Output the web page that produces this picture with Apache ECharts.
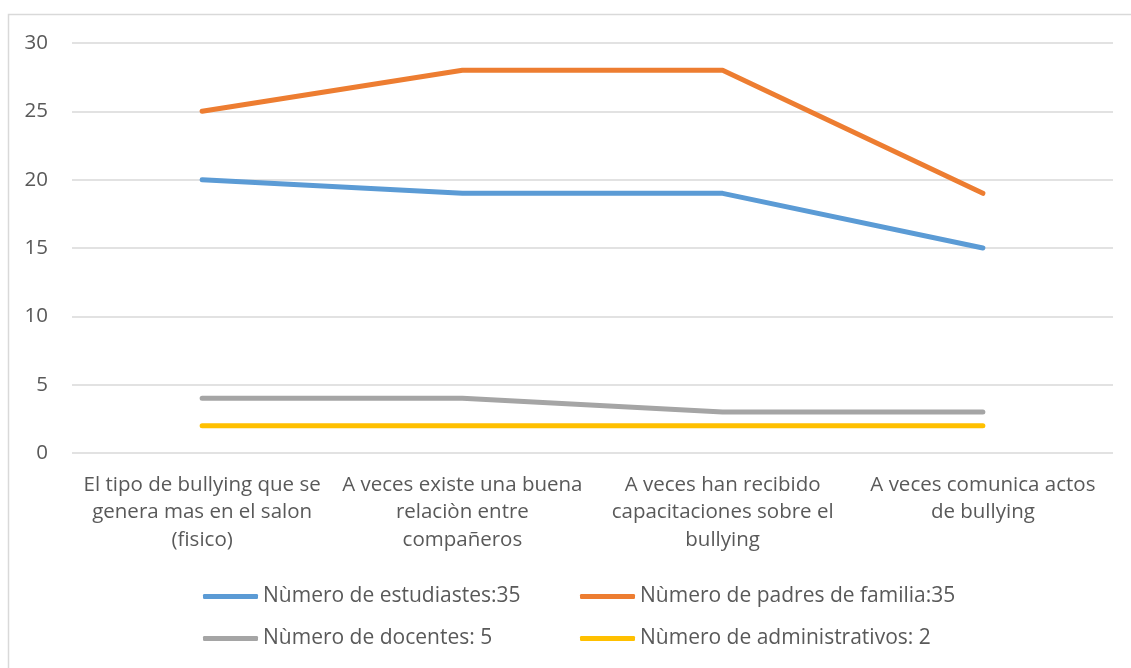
<!DOCTYPE html>
<html>
<head>
<meta charset="utf-8">
<script src="https://cdn.jsdelivr.net/npm/echarts@6/dist/echarts.min.js"></script>
<style>
  html, body { margin: 0; padding: 0; background: #fff; }
  #line { width: 1131px; height: 668px; }
</style>
</head>
<body>
<div id="line"></div>
<script>
// categorias del eje x
const categorias = [
  "El tipo de bullying que se\ngenera mas en el salon\n(fisico)",
  "A veces existe una buena\nrelaciòn entre\ncompañeros",
  "A veces han recibido\ncapacitaciones sobre el\nbullying",
  "A veces comunica actos\nde bullying",
];
const nombres = [
  "Nùmero de estudiastes:35",
  "Nùmero de padres de familia:35",
  "Nùmero de docentes: 5",
  "Nùmero de administrativos: 2",
];
const estudiantes = [20, 19, 19, 15];
const padres = [25, 28, 28, 19];
const docentes = [4, 4, 3, 3];
const administrativos = [2, 2, 2, 2];
const colores = ["#5B9BD5", "#ED7D31", "#A5A5A5", "#FFC000"];

const font = "'Open Sans', sans-serif";
var myChart = echarts.init(document.getElementById("line"));

function serie(name, data, color) {
  return {
    name: name,
    type: "line",
    data: data,
    showSymbol: false,
    symbol: "none",
    lineStyle: { width: 5, color: color, cap: "round" },
    itemStyle: { color: color },
  };
}

const leyenda = {
  orient: "vertical",
  top: 585,
  padding: 0,
  itemWidth: 55,
  itemHeight: 5,
  itemGap: 19,
  icon: "roundRect",
  textStyle: { color: "#595959", fontSize: 21, fontFamily: font, lineHeight: 23 },
};

var option = {
  animation: false,
  color: colores,
  grid: { left: 72, right: 18, top: 43, bottom: 215 },
  graphic: [
    {
      type: "rect",
      shape: { x: 8.5, y: 14.5, width: 1140, height: 700 },
      style: { fill: "none", stroke: "#d9d9d9", lineWidth: 1.5 },
      silent: true,
    },
  ],
  legend: [
    Object.assign({}, leyenda, { left: 203, data: [nombres[0], nombres[2]] }),
    Object.assign({}, leyenda, { left: 580, data: [nombres[1], nombres[3]] }),
  ],
  xAxis: {
    type: "category",
    data: categorias,
    boundaryGap: true,
    axisLine: { show: false },
    axisTick: { show: false },
    axisLabel: {
      color: "#595959",
      fontSize: 20.5,
      fontFamily: font,
      lineHeight: 27.5,
      margin: 18,
      interval: 0,
    },
  },
  yAxis: {
    type: "value",
    min: 0,
    max: 30,
    interval: 5,
    axisLine: { show: false },
    axisTick: { show: false },
    axisLabel: { color: "#595959", fontSize: 20.5, fontFamily: font, margin: 24 },
    splitLine: { lineStyle: { color: "#d9d9d9", width: 1.5 } },
  },
  series: [
    serie(nombres[0], estudiantes, colores[0]),
    serie(nombres[1], padres, colores[1]),
    serie(nombres[2], docentes, colores[2]),
    serie(nombres[3], administrativos, colores[3]),
  ],
};
myChart.setOption(option);
</script>
</body>
</html>
